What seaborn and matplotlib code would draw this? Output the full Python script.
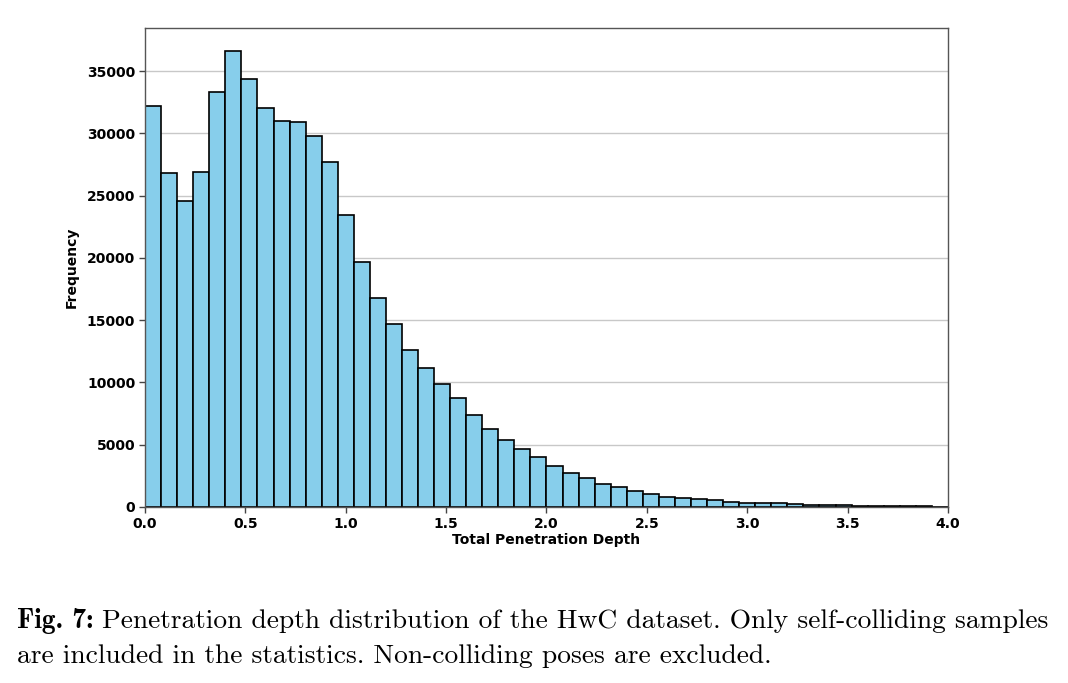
import numpy as np
import pandas as pd
import matplotlib
matplotlib.use("Agg")
import matplotlib.pyplot as plt
import seaborn as sns

# Histogram bin counts (50 bins of width 0.08 from 0 to 4.0)
bin_lo = 0.0
bin_hi = 4.0
n_bins = 50
counts = [
    32200, 26840, 24550, 26920, 33340, 36630, 34360, 32060, 30960, 30930,
    29810, 27690, 23470, 19690, 16800, 14710, 12600, 11180, 9900, 8750,
    7410, 6260, 5350, 4630, 3990, 3320, 2760, 2300, 1870, 1580,
    1310, 1070, 830, 700, 620, 560, 430, 350, 320, 290,
    240, 190, 160, 130, 100, 80, 70, 60, 50, 30,
]
xlabel = "Total Penetration Depth"
ylabel = "Frequency"
xticks = [0.0, 0.5, 1.0, 1.5, 2.0, 2.5, 3.0, 3.5, 4.0]
yticks = [0, 5000, 10000, 15000, 20000, 25000, 30000, 35000]
caption_bold = "Fig. 7:"
caption_line1 = "Penetration depth distribution of the HwC dataset. Only self-colliding samples"
caption_line2 = "are included in the statistics. Non-colliding poses are excluded."

edges = np.linspace(bin_lo, bin_hi, n_bins + 1)
centers = (edges[:-1] + edges[1:]) / 2
df = pd.DataFrame({"depth": centers, "count": counts})

sns.set_style("white")
plt.rcParams["font.family"] = ["DejaVu Sans"]
plt.rcParams["text.color"] = "black"
plt.rcParams["axes.labelcolor"] = "black"
plt.rcParams["xtick.color"] = "black"
plt.rcParams["ytick.color"] = "black"

fig = plt.figure(figsize=(10.68, 6.83), dpi=100)
ax = fig.add_axes([0.1358, 0.2577, 0.7518, 0.7013])

ax.yaxis.grid(True, color="#c8c8c8", linewidth=1.0, zorder=0)
ax.set_axisbelow(True)
sns.histplot(data=df, x="depth", weights="count", bins=n_bins,
             binrange=(bin_lo, bin_hi), ax=ax,
             color="skyblue", edgecolor="black", linewidth=1.2, alpha=1.0,
             zorder=2)

ax.set_xlim(bin_lo, bin_hi)
ax.set_ylim(0, max(counts) * 1.05)
ax.set_xticks(xticks)
ax.set_xticklabels([f"{t:.1f}" for t in xticks])
ax.set_yticks(yticks)
ax.set_yticklabels([str(t) for t in yticks])
ax.tick_params(axis="both", which="both", length=4, width=1, color="#444444",
               labelcolor="black", direction="out", bottom=True, left=True,
               labelsize=10, pad=3)
for lab in ax.get_xticklabels() + ax.get_yticklabels():
    lab.set_fontweight("bold")
ax.set_xlabel(xlabel, fontsize=10, fontweight="bold", labelpad=2, color="black")
ax.set_ylabel(ylabel, fontsize=10, fontweight="bold", labelpad=6, color="black")
for s in ax.spines.values():
    s.set_visible(True)
    s.set_color("#555555")
    s.set_linewidth(1.0)

fs = 19.8
y1 = 1 - 621 / 683
t1 = fig.text(17 / 1068, y1, caption_bold, fontsize=fs,
              family=["cmb10", "DejaVu Serif"], va="center", ha="left")
fig.canvas.draw()
bb = t1.get_window_extent()
x2 = (bb.x1 + 8) / 1068
fig.text(x2, y1, caption_line1, fontsize=fs,
         family=["cmr10", "DejaVu Serif"], va="center", ha="left")
fig.text(17 / 1068, 1 - 656 / 683, caption_line2, fontsize=fs,
         family=["cmr10", "DejaVu Serif"], va="center", ha="left")

fig.savefig("out.png", dpi=100)
